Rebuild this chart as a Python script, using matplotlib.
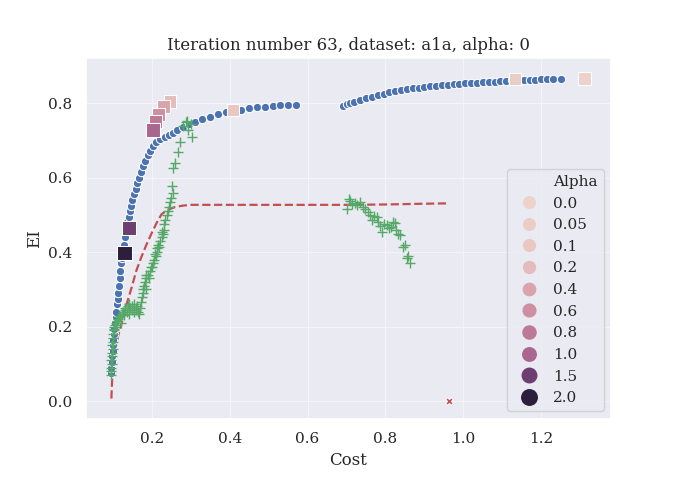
import numpy as np
import matplotlib
matplotlib.use("Agg")
import matplotlib.pyplot as plt
from matplotlib.lines import Line2D
import seaborn as sns

sns.set_theme(style="darkgrid", font="serif")
plt.rcParams["grid.linewidth"] = 0.8
plt.rcParams["grid.color"] = "#f4f4f8"

# front points (blue)
front_cost = [0.095, 0.096, 0.097, 0.098, 0.099, 0.100, 0.101, 0.102, 0.104, 0.105,
              0.107, 0.108, 0.110, 0.112, 0.113, 0.115, 0.117, 0.119, 0.121, 0.123,
              0.126, 0.128, 0.131, 0.134, 0.137, 0.140, 0.143, 0.147, 0.150, 0.154,
              0.158, 0.163, 0.167, 0.172, 0.177, 0.183, 0.190, 0.196, 0.203, 0.210,
              0.220, 0.235, 0.245, 0.255, 0.265, 0.280, 0.295, 0.310, 0.330, 0.350,
              0.370, 0.390, 0.410, 0.430, 0.450, 0.470, 0.490, 0.510, 0.530, 0.550,
              0.570,
              0.690, 0.700, 0.710, 0.720, 0.735, 0.750, 0.765, 0.780, 0.795, 0.810,
              0.825, 0.840, 0.855, 0.870, 0.885, 0.900, 0.915, 0.930, 0.945, 0.960,
              0.975, 0.990, 1.005, 1.020, 1.035, 1.050, 1.065, 1.080, 1.095, 1.110,
              1.125, 1.140, 1.155, 1.170, 1.185, 1.200, 1.215, 1.230, 1.250]
front_ei = [0.075, 0.090, 0.105, 0.120, 0.135, 0.150, 0.165, 0.180, 0.195, 0.210,
            0.225, 0.240, 0.260, 0.275, 0.290, 0.310, 0.330, 0.350, 0.370, 0.385,
            0.405, 0.420, 0.440, 0.460, 0.480, 0.495, 0.510, 0.525, 0.540, 0.555,
            0.570, 0.585, 0.600, 0.615, 0.630, 0.645, 0.660, 0.672, 0.685, 0.695,
            0.705, 0.710, 0.715, 0.720, 0.728, 0.735, 0.743, 0.750, 0.757, 0.764,
            0.770, 0.775, 0.779, 0.782, 0.786, 0.789, 0.791, 0.793, 0.794, 0.795,
            0.795,
            0.793, 0.797, 0.800, 0.804, 0.808, 0.813, 0.817, 0.821, 0.825, 0.829,
            0.832, 0.835, 0.838, 0.840, 0.842, 0.844, 0.845, 0.847, 0.848, 0.849,
            0.851, 0.852, 0.853, 0.854, 0.855, 0.856, 0.857, 0.858, 0.859, 0.860,
            0.861, 0.862, 0.862, 0.863, 0.863, 0.864, 0.864, 0.864, 0.864]

# sampled points (green)
sample_cost = [0.095, 0.096, 0.095, 0.097, 0.096, 0.098, 0.097, 0.099, 0.098, 0.100,
               0.101, 0.099, 0.102, 0.104, 0.103, 0.106, 0.108, 0.110, 0.112, 0.115,
               0.118, 0.120, 0.122, 0.125, 0.128, 0.130, 0.132, 0.135, 0.138, 0.140,
               0.142, 0.145, 0.148, 0.150, 0.153, 0.155, 0.158, 0.160, 0.163, 0.165,
               0.168, 0.170, 0.172, 0.174, 0.176, 0.178, 0.180, 0.182, 0.184, 0.186,
               0.190, 0.195, 0.198, 0.203, 0.206, 0.210, 0.212, 0.214, 0.216, 0.220,
               0.225, 0.228, 0.232, 0.230, 0.235, 0.238, 0.242, 0.185, 0.192, 0.200,
               0.207, 0.218, 0.226, 0.245, 0.246, 0.249, 0.253, 0.252, 0.255, 0.260,
               0.267, 0.272, 0.280, 0.288, 0.293, 0.300, 0.302, 0.290,
               0.700, 0.705, 0.710, 0.715, 0.722, 0.728, 0.735, 0.743, 0.748, 0.756,
               0.760, 0.765, 0.770, 0.778, 0.782, 0.785, 0.790, 0.795, 0.803, 0.808,
               0.815, 0.820, 0.825, 0.828, 0.833, 0.838, 0.846, 0.850, 0.855, 0.858,
               0.863]
sample_ei = [0.070, 0.080, 0.090, 0.100, 0.110, 0.120, 0.130, 0.140, 0.150, 0.160,
             0.170, 0.180, 0.190, 0.195, 0.200, 0.205, 0.210, 0.215, 0.220, 0.225,
             0.228, 0.210, 0.235, 0.240, 0.230, 0.245, 0.250, 0.240, 0.255, 0.260,
             0.235, 0.250, 0.245, 0.255, 0.240, 0.260, 0.250, 0.245, 0.255, 0.240,
             0.235, 0.250, 0.265, 0.280, 0.290, 0.300, 0.310, 0.320, 0.330, 0.340,
             0.340, 0.350, 0.360, 0.370, 0.380, 0.390, 0.400, 0.410, 0.420, 0.430,
             0.440, 0.450, 0.460, 0.475, 0.485, 0.500, 0.510, 0.300, 0.330, 0.360,
             0.395, 0.415, 0.455, 0.520, 0.535, 0.545, 0.560, 0.577, 0.625, 0.640,
             0.670, 0.695, 0.740, 0.749, 0.727, 0.745, 0.710, 0.752,
             0.517, 0.544, 0.538, 0.530, 0.532, 0.527, 0.535, 0.522, 0.515, 0.508,
             0.500, 0.486, 0.498, 0.495, 0.481, 0.470, 0.454, 0.475, 0.472, 0.465,
             0.468, 0.481, 0.478, 0.460, 0.450, 0.445, 0.414, 0.418, 0.383, 0.390,
             0.370]

# model curve (red dashed)
curve_cost = [0.096, 0.098, 0.101, 0.105, 0.112, 0.122, 0.135, 0.148, 0.160, 0.173,
              0.186, 0.199, 0.212, 0.225, 0.240, 0.259, 0.280, 0.302, 0.400, 0.500,
              0.600, 0.700, 0.800, 0.900, 0.960]
curve_ei = [0.007, 0.060, 0.100, 0.128, 0.170, 0.208, 0.260, 0.305, 0.350, 0.387,
            0.420, 0.450, 0.478, 0.502, 0.513, 0.521, 0.525, 0.527, 0.527, 0.527,
            0.527, 0.527, 0.528, 0.530, 0.531]

# best points per alpha (squares)
alphas = [0.0, 0.05, 0.1, 0.2, 0.4, 0.6, 0.8, 1.0, 1.5, 2.0]
alpha_labels = ["0.0", "0.05", "0.1", "0.2", "0.4", "0.6", "0.8", "1.0", "1.5", "2.0"]
best_cost = [1.311, 1.133, 0.408, 0.246, 0.230, 0.218, 0.210, 0.203, 0.142, 0.129]
best_ei = [0.866, 0.864, 0.781, 0.805, 0.790, 0.770, 0.750, 0.728, 0.466, 0.398]

# selected point (red x)
chosen_cost = [0.962]
chosen_ei = [0.0]

blue, green, red = "#4C72B0", "#55A868", "#C44E52"
cmap = sns.cubehelix_palette(as_cmap=True)
a = np.array(alphas)
norm = (a - a.min()) / (a.max() - a.min())
sq_sizes = 78 + 32 * norm
leg_sizes = 9.3 + 2.9 * norm

fig = plt.figure(figsize=(6.8, 4.8), dpi=100)
ax = fig.add_subplot(111)
fig.subplots_adjust(left=0.126, right=0.899, bottom=0.127, top=0.879)

ax.scatter(front_cost, front_ei, s=36, color=blue, edgecolor="white", linewidth=0.75, zorder=3)
ax.scatter(sample_cost, sample_ei, s=50, marker="+", color=green, linewidth=1.0, zorder=4)
ax.plot(curve_cost, curve_ei, "--", color=red, linewidth=1.6, zorder=2)
ax.scatter(best_cost, best_ei, s=sq_sizes, marker="s", c=cmap(norm),
           edgecolor="white", linewidth=0.75, zorder=5)
ax.scatter(chosen_cost, chosen_ei, s=30, marker="X", color=red,
           edgecolor="white", linewidth=0.75, zorder=5)

ax.set_xlim(0.030, 1.380)
ax.set_ylim(-0.048, 0.921)
ax.set_xticks([0.2, 0.4, 0.6, 0.8, 1.0, 1.2])
ax.set_yticks([0.0, 0.2, 0.4, 0.6, 0.8])
ax.set_xlabel("Cost")
ax.set_ylabel("EI")
ax.set_title("Iteration number 63, dataset: a1a, alpha: 0")

handles = [Line2D([], [], linestyle="none", marker="")]
labels = ["Alpha"]
for lab, c, ms in zip(alpha_labels, cmap(norm), leg_sizes):
    handles.append(Line2D([], [], linestyle="none", marker="o", markersize=ms,
                          markerfacecolor=c, markeredgewidth=0))
    labels.append(lab)
ax.legend(handles, labels, loc="lower right", handletextpad=0.6)

fig.savefig("out.png", dpi=100)
